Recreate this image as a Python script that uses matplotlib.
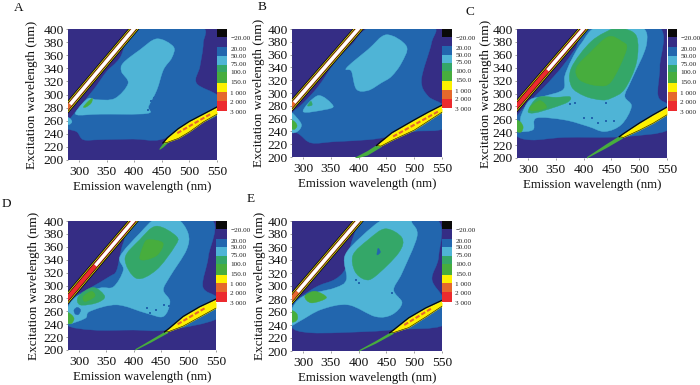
#!/usr/bin/env python3
# -*- coding: utf-8 -*-

import numpy as np
import matplotlib
matplotlib.use("Agg")
import matplotlib.pyplot as plt
from matplotlib.patches import PathPatch
from matplotlib.path import Path

plt.rcParams['font.family'] = ['Liberation Serif', 'DejaVu Serif']

W, H = 700, 385

INDIGO = "#352d85"
BLUE = "#2266ae"
CYAN = "#4fb4d6"
SEA = "#34a768"
GREEN = "#47ad3d"
YELLOW = "#fdf000"
ORANGE = "#e5682c"
RED = "#ec2a2e"
BLACK = "#0a0a0a"

# colour scale
LEVEL_LABELS = ["\u221220.00", "20.00", "50.00", "75.00", "100.0", "150.0", "1 000", "2 000", "3 000"]
LEVEL_COLORS = [BLACK, INDIGO, BLUE, CYAN, SEA, GREEN, YELLOW, ORANGE, RED]
LEVEL_HEIGHTS = [8, 10, 9, 9, 8, 11, 9, 9, 10]
LEVEL_LABEL_POS = [9, 20, 27, 35, 44, 54, 65, 74, 84]

X_TICKS = [300, 350, 400, 450, 500, 550]
Y_TICKS = list(range(200, 401, 20))

# scatter ridge (emission, excitation)
RIDGE_EM = [262, 420]
RIDGE_EX = [263, 421]

# contour outlines, (emission, excitation)
A_BLUE = [(407,404),(374,356),(350,335),(326,307),(296,276),(278,256),(278,248),(296,243),(308,231),(338,231),
          (398,232),(447,231),(500,250),(553,270),(553,297),(513,317),(519,343),(525,378),(519,404)]
A_CYAN = [(441,385),(471,373),(468,356),(453,338),(441,307),(426,282),(423,271),(338,270),(296,269),(299,279),
          (317,294),(332,292),(365,294),(389,317),(377,335),(380,348),(410,368)]
A_CYAN2 = [(278,265),(284,263),(287,258),(282,254),(278,256)]
A_SEA = [(308,281),(316,289),(324,294),(322,287),(313,281)]
A_SPOTS = [(290,258),(293,254),(430,290),(432,280),(436,295),(440,275),(445,285),(428,268),(450,272),(455,268),
           (415,262),(410,240),(470,272),(433,286),(438,282),(442,292),(447,278),(425,276)]

B_BLUE = [(426,404),(387,375),(357,347),(327,310),(300,284),(278,266),(278,245),(294,235),(315,222),(357,224),
          (417,227),(456,232),(500,240),(553,245),(553,279),(525,295),(513,321),(531,378),(531,404)]
B_CYAN = [(450,391),(486,373),(477,347),(459,326),(441,316),(417,304),(396,306),(387,334),(378,339),(417,368)]
B_CYAN2 = [(300,271),(327,296),(354,280),(339,274)]
B_CYAN3 = [(278,268),(288,262),(297,250),(290,240),(278,240)]
B_SEA = [(308,280),(314,287),(316,281)]
B_GREEN = [(278,258),(286,254),(289,248),(284,243),(278,246)]
B_SPOTS = [(434,280),(442,275),(420,281),(425,278)]

C_BLUE = [(414,404),(384,368),(360,340),(330,311),(306,290),(278,262),(278,236),(306,228),(366,232),(468,233),
          (553,244),(553,280),(534,296),(537,342),(534,404)]
C_CYAN = [(426,404),(396,378),(378,352),(366,327),(363,306),(330,296),(303,290),(288,267),(285,254),(278,247),
          (285,241),(309,244),(315,262),(366,259),(408,249),(438,241),(468,252),(486,280),(474,296),(486,321),(513,376),(501,404)]
C_SEA = [(456,402),(414,381),(378,340),(378,311),(402,296),(432,290),(450,293),(474,307),(495,348),(495,389),(468,402)]
C_SEA2 = [(300,273),(318,294),(350,294),(375,295),(372,287),(345,278),(312,270)]
C_GREEN = [(444,388),(411,363),(387,340),(393,321),(426,312),(450,319),(477,368),(468,381)]
C_GREEN2 = [(303,278),(321,289),(333,278),(309,273)]
C_GREEN3 = [(278,258),(286,256),(291,248),(287,240),(278,243)]
C_SPOTS = [(415,262),(425,255),(440,258),(455,258),(400,262),(375,283),(385,285),(440,285)]

D_BLUE = [(408,404),(381,366),(369,324),(356,314),(320,296),(293,283),(278,265),(278,239),(326,231),(399,231),
          (460,231),(553,249),(553,280),(526,298),(536,345),(539,404)]
D_CYAN = [(478,404),(499,381),(496,355),(466,314),(454,293),(466,275),(454,252),(423,257),(369,270),(320,260),
          (311,249),(278,241),(278,262),(296,283),(338,296),(363,298),(381,324),(375,345),(411,381),(441,404)]
D_SEA = [(441,392),(478,376),(475,361),(441,324),(405,311),(384,342),(411,371)]
D_SEA2 = [(299,283),(326,297),(347,283),(332,273),(302,270)]
D_GREEN = [(426,371),(453,366),(444,348),(423,340),(411,342),(417,361)]
D_GREEN2 = [(308,283),(323,291),(329,283),(311,275)]
D_GREEN3 = [(278,258),(287,254),(291,248),(286,241),(278,243)]
D_BLUE_SPOT = [(291,262),(297,266),(303,262),(299,255),(293,256)]
D_SPOTS = [(420,255),(430,258),(425,265),(440,262),(455,270),(465,268)]

E_BLUE = [(417,404),(381,351),(375,325),(357,310),(327,300),(297,284),(278,269),(278,238),(315,228),(417,230),
          (466,233),(553,240),(553,279),(532,310),(544,346),(538,404)]
E_CYAN = [(496,397),(505,376),(478,320),(463,294),(478,274),(460,256),(430,253),(381,271),(333,264),(294,246),
          (278,240),(278,261),(300,284),(357,297),(378,310),(375,346),(405,376),(448,404),(490,404)]
E_SEA = [(448,388),(478,374),(472,351),(430,315),(411,310),(393,323),(390,348),(417,371)]
E_SEA2 = [(303,284),(321,292),(342,282),(315,274)]
E_GREEN = [(278,262),(288,258),(290,250),(285,245),(278,246)]
E_GREEN2 = [(435,358),(439,352),(433,348)]
E_SPOTS = [(395,310),(400,305),(460,290),(430,245),(475,283)]

# second order band, yellow part: emission, upper and lower excitation
A_YEL_EM = [452, 460, 480, 500, 525, 550]
A_YEL_UP = [226, 234, 248, 259, 270, 281]
A_YEL_LO = [226, 227, 233, 243, 258, 270]
A_TIP_EM = [445, 452, 462]
A_TIP_UP = [218, 226, 235]
A_TIP_LO = [216, 220, 228]
A_DASH_EM = [478, 540]
A_DASH_EX = [241, 271]

B_YEL_EM = [432, 440, 460, 500, 525, 550]
B_YEL_UP = [218, 224, 238, 258, 270, 281]
B_YEL_LO = [218, 217, 226, 242, 256, 270]
B_TIP_EM = [393, 415, 440]
B_TIP_UP = [200, 210, 224]
B_TIP_LO = [198, 203, 216]
B_DASH_EM = [462, 545]
B_DASH_EX = [232, 272]

C_YEL_EM = [464, 472, 500, 525, 550]
C_YEL_UP = [233, 238, 254, 267, 279]
C_YEL_LO = [233, 232, 243, 254, 267]
C_TIP_EM = [405, 440, 470]
C_TIP_UP = [202, 222, 238]
C_TIP_LO = [200, 216, 231]
C_DASH_EM = []
C_DASH_EX = []

D_YEL_EM = [456, 465, 490, 520, 550]
D_YEL_UP = [228, 234, 252, 267, 279]
D_YEL_LO = [228, 229, 237, 251, 265]
D_TIP_EM = [402, 430, 462]
D_TIP_UP = [202, 216, 232]
D_TIP_LO = [200, 212, 227]
D_DASH_EM = [480, 530]
D_DASH_EX = [240, 265]

E_YEL_EM = [456, 465, 490, 520, 550]
E_YEL_UP = [228, 234, 251, 266, 278]
E_YEL_LO = [228, 229, 236, 252, 269]
E_TIP_EM = [400, 430, 462]
E_TIP_UP = [202, 216, 232]
E_TIP_LO = [200, 212, 227]
E_DASH_EM = [482, 530]
E_DASH_EX = [240, 265]


def new_axes(fig, left, right, top, bottom):
    return fig.add_axes([left / W, 1 - bottom / H, (right - left) / W, (bottom - top) / H])


def fill(ax, pts, color, z):
    # closed bezier curve running through the outline points
    p = np.array(pts, dtype=float)
    tan = (np.roll(p, -1, axis=0) - np.roll(p, 1, axis=0)) / 6
    verts = [p[0]]
    codes = [Path.MOVETO]
    for i in range(len(p)):
        j = (i + 1) % len(p)
        verts += [p[i] + tan[i], p[j] - tan[j], p[j]]
        codes += [Path.CURVE4, Path.CURVE4, Path.CURVE4]
    ax.add_patch(PathPatch(Path(verts, codes), facecolor=color, edgecolor=color, lw=0.3, zorder=z))


def ridge(ax, inner, white_from):
    for lw, col in [(6.2, BLACK), (5.0, YELLOW), (4.0, BLACK), (3.1, inner)]:
        ax.plot(RIDGE_EM, RIDGE_EX, color=col, lw=lw, zorder=8, solid_capstyle='butt')
    ax.plot([white_from, RIDGE_EM[1]], [white_from + 1, RIDGE_EX[1]], color='white', lw=2.4, zorder=9,
            solid_capstyle='butt')


def band(ax, em, up, lo, tip_em, tip_up, tip_lo, dash_em, dash_ex):
    ax.fill_between(tip_em, tip_lo, tip_up, color=GREEN, lw=0, zorder=6)
    ax.fill_between(em, lo, up, color=YELLOW, lw=0, zorder=7)
    ax.plot(em, up, color=BLACK, lw=0.9, zorder=8)
    ax.plot(em, lo, color=BLACK, lw=0.4, zorder=8)
    if dash_em:
        ax.plot(dash_em, dash_ex, color=ORANGE, lw=1.5, ls=(0, (2.2, 1.0)), zorder=8)


def colorbar(fig, left, right, top, bottom):
    cax = new_axes(fig, left, right, top, bottom)
    bottoms = np.cumsum([0] + LEVEL_HEIGHTS[:-1])
    cax.bar(np.zeros(len(LEVEL_COLORS)), LEVEL_HEIGHTS, bottom=bottoms, width=1, color=LEVEL_COLORS)
    cax.set_xlim(-0.5, 0.5)
    cax.set_ylim(sum(LEVEL_HEIGHTS), 0)
    cax.set_xticks([])
    cax.yaxis.tick_right()
    cax.set_yticks(LEVEL_LABEL_POS, LEVEL_LABELS)
    cax.tick_params(axis='y', length=0, pad=2.5, labelsize=5.2, colors='#222222')
    for s in cax.spines.values():
        s.set_visible(False)


def panel(fig, box, cbox, letter, letter_xy, layers, spots, band_args, inner, white_from, ypad):
    ax = new_axes(fig, *box)
    ax.set_facecolor(INDIGO)
    ax.set_xlim(280, 550)
    ax.set_ylim(200, 400)
    for i, (pts, col) in enumerate(layers):
        fill(ax, pts, col, 2 + i * 0.1)
    if spots:
        ax.scatter(*zip(*spots), s=3, marker='s', color=BLUE, lw=0, zorder=5)
    band(ax, *band_args)
    ridge(ax, inner, white_from)
    ax.set_xticks(X_TICKS)
    ax.set_yticks(Y_TICKS)
    ax.tick_params(labelsize=9.7, length=1.5, width=0.4, pad=1.5, color='#555555', labelcolor='#111111')
    ax.tick_params(axis='x', pad=3)
    ax.set_xlabel("Emission wavelength (nm)", fontsize=9.3, labelpad=2, color='#111111')
    ax.set_ylabel("Excitation wavelength (nm)", fontsize=9.5, labelpad=ypad, color='#111111')
    for s in ax.spines.values():
        s.set_visible(False)
    colorbar(fig, *cbox)
    fig.text(letter_xy[0] / W, 1 - letter_xy[1] / H, letter, fontsize=9.5, va='center', ha='left', color='#111111')


def main():
    fig = plt.figure(figsize=(W / 100, H / 100), dpi=100)

    panel(fig, (68, 217, 29, 160), (217, 227, 29, 112), "A", (14, 8),
          [(A_BLUE, BLUE), (A_CYAN, CYAN), (A_CYAN2, CYAN), (A_SEA, GREEN)], A_SPOTS,
          (A_YEL_EM, A_YEL_UP, A_YEL_LO, A_TIP_EM, A_TIP_UP, A_TIP_LO, A_DASH_EM, A_DASH_EX),
          ORANGE, 284, 4.0)
    panel(fig, (292, 442, 29, 157), (442, 452, 29, 109), "B", (258, 7),
          [(B_BLUE, BLUE), (B_CYAN, CYAN), (B_CYAN2, CYAN), (B_CYAN3, CYAN), (B_SEA, SEA), (B_GREEN, GREEN)], B_SPOTS,
          (B_YEL_EM, B_YEL_UP, B_YEL_LO, B_TIP_EM, B_TIP_UP, B_TIP_LO, B_DASH_EM, B_DASH_EX),
          ORANGE, 284, 2.0)
    panel(fig, (517, 667, 29, 158), (668, 677, 29, 112), "C", (466, 12),
          [(C_BLUE, BLUE), (C_CYAN, CYAN), (C_SEA, SEA), (C_SEA2, SEA), (C_GREEN, GREEN), (C_GREEN2, GREEN), (C_GREEN3, GREEN)], C_SPOTS,
          (C_YEL_EM, C_YEL_UP, C_YEL_LO, C_TIP_EM, C_TIP_UP, C_TIP_LO, C_DASH_EM, C_DASH_EX),
          RED, 335, 0.6)
    panel(fig, (68, 216, 221, 350), (216, 227, 221, 303), "D", (2, 204),
          [(D_BLUE, BLUE), (D_CYAN, CYAN), (D_SEA, SEA), (D_SEA2, SEA), (D_GREEN, GREEN), (D_GREEN2, GREEN), (D_GREEN3, GREEN), (D_BLUE_SPOT, BLUE)], D_SPOTS,
          (D_YEL_EM, D_YEL_UP, D_YEL_LO, D_TIP_EM, D_TIP_UP, D_TIP_LO, D_DASH_EM, D_DASH_EX),
          RED, 330, 2.7)
    panel(fig, (292, 442, 221, 351), (442, 452, 221, 303), "E", (247, 199),
          [(E_BLUE, BLUE), (E_CYAN, CYAN), (E_SEA, SEA), (E_SEA2, GREEN), (E_GREEN, GREEN), (E_GREEN2, BLUE)], E_SPOTS,
          (E_YEL_EM, E_YEL_UP, E_YEL_LO, E_TIP_EM, E_TIP_UP, E_TIP_LO, E_DASH_EM, E_DASH_EX),
          ORANGE, 290, 1.3)

    fig.savefig("out.png", dpi=100)
    plt.close(fig)


if __name__ == "__main__":
    main()
